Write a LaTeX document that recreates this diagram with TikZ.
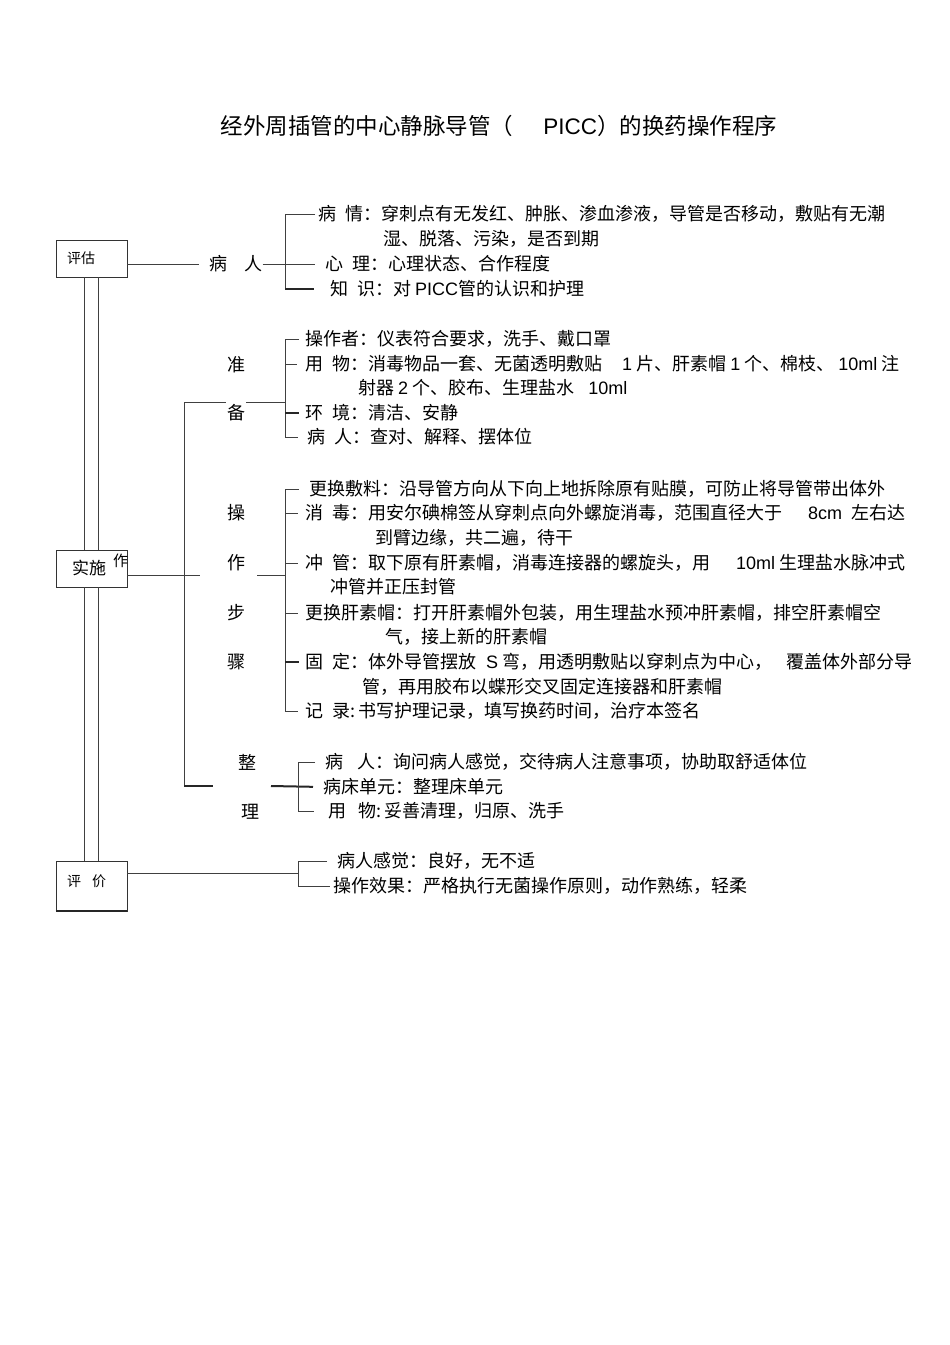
\documentclass[tikz,border=0pt]{standalone}
\usepackage{fontspec}
\setmainfont{Noto Sans CJK SC}
\newfontfamily\latn{Liberation Sans}
\tikzset{
  picc box/.style={draw=black!80,line width=0.9pt,minimum width=71pt,minimum height=37pt,inner sep=0pt},
  picc link/.style={black!75,line width=1pt},
  picc bold/.style={black!85,line width=2pt},
  picc item/.style={anchor=west,inner sep=0pt,font=\fontsize{18}{22}\selectfont},
  picc key/.style={inner sep=0pt,font=\fontsize{18}{22}\selectfont},
  picc tag/.style={anchor=west,inner sep=0pt,font=\fontsize{14}{16}\selectfont}
}
\newcommand{\kgap}{\hspace{9pt}}
\newcommand{\nm}[1]{{\latn #1}}

\begin{document}
\begin{tikzpicture}[x=1pt,y=-1pt]
  \useasboundingbox (0,0) rectangle (950,1345);
  \node[inner sep=0pt,font=\fontsize{22.5}{26}\selectfont] (title) at (499,126)
    {经外周插管的中心静脉导管（\hspace{30pt}\nm{PICC}）的换药操作程序};

  \node[picc box] (pgbox) at (91.5,258.5) {};
  \node[picc tag] (pglabel) at (67,258) {评估};
  \node[picc box] (ssbox) at (91.5,568.5) {};
  \node[picc tag,font=\fontsize{17}{20}\selectfont] (sslabel) at (72,568) {实施};
  \node[picc tag,font=\fontsize{15}{18}\selectfont] (ssextra) at (113,561) {作};
  \node[picc box,minimum height=50pt] (pjbox) at (91.5,886) {};
  \node[picc tag] (pjlabel) at (67,881) {评\hspace{11pt}价};

  \node[picc key] (brlabel) at (236,264) {病\hspace{17pt}人};
  \node[picc key] (zhun) at (236,365) {准};
  \node[picc key] (bei) at (236,413) {备};
  \node[picc key] (cao) at (236,513) {操};
  \node[picc key] (zuo) at (236,563) {作};
  \node[picc key] (bu) at (236,613) {步};
  \node[picc key] (zhou) at (236,662) {骤};
  \node[picc key] (zheng) at (247,762) {整};
  \node[picc key] (li) at (250,812) {理};

  \node[picc item] (r1) at (318,214) {病\kgap 情：穿刺点有无发红、肿胀、渗血渗液，导管是否移动，敷贴有无潮};
  \node[picc item] (r1b) at (383,239) {湿、脱落、污染，是否到期};
  \node[picc item] (r2) at (325,264) {心\kgap 理：心理状态、合作程度};
  \node[picc item] (r3) at (330,289) {知\kgap 识：对 \nm{PICC}管的认识和护理};
  \node[picc item] (r4) at (305,339) {操作者：仪表符合要求，洗手、戴口罩};
  \node[picc item] (r5) at (305,364) {用\kgap 物：消毒物品一套、无菌透明敷贴\hspace{20pt}\nm{1} 片、肝素帽 \nm{1} 个、棉枝、 \nm{10ml} 注};
  \node[picc item] (r5b) at (358,388) {射器 \nm{2} 个、胶布、生理盐水\hspace{14pt}\nm{10ml}};
  \node[picc item] (r6) at (305,413) {环\kgap 境：清洁、安静};
  \node[picc item] (r7) at (307,437) {病\kgap 人：查对、解释、摆体位};
  \node[picc item] (r8) at (309,489) {更换敷料：沿导管方向从下向上地拆除原有贴膜，可防止将导管带出体外};
  \node[picc item] (r9) at (305,513) {消\kgap 毒：用安尔碘棉签从穿刺点向外螺旋消毒，范围直径大于\hspace{26pt}\nm{8cm}\hspace{9pt}左右达};
  \node[picc item] (r9b) at (375,538) {到臂边缘，共二遍，待干};
  \node[picc item] (r10) at (305,563) {冲\kgap 管：取下原有肝素帽，消毒连接器的螺旋头，用\hspace{26pt}\nm{10ml} 生理盐水脉冲式};
  \node[picc item] (r10b) at (330,587) {冲管并正压封管};
  \node[picc item] (r11) at (305,613) {更换肝素帽：打开肝素帽外包装，用生理盐水预冲肝素帽，排空肝素帽空};
  \node[picc item] (r11b) at (385,637) {气，接上新的肝素帽};
  \node[picc item] (r12) at (305,662) {固\kgap 定：体外导管摆放\hspace{10pt}\nm{S} 弯，用透明敷贴以穿刺点为中心，\hspace{14pt}覆盖体外部分导};
  \node[picc item] (r12b) at (362,687) {管，再用胶布以蝶形交叉固定连接器和肝素帽};
  \node[picc item] (r13) at (305,711) {记\kgap 录:\,书写护理记录，填写换药时间，治疗本签名};
  \node[picc item] (r14) at (325,762) {病\hspace{14pt}人：询问病人感觉，交待病人注意事项，协助取舒适体位};
  \node[picc item] (r15) at (323,787) {病床单元：整理床单元};
  \node[picc item] (r16) at (328,811) {用\hspace{12pt}物:\,妥善清理，归原、洗手};
  \node[picc item] (r17) at (337,861) {病人感觉：良好，无不适};
  \node[picc item] (r18) at (333,886) {操作效果：严格执行无菌操作原则，动作熟练，轻柔};

  \coordinate (b1t) at (285,214);
  \coordinate (b1b) at (285,289);
  \coordinate (b2t) at (285,339);
  \coordinate (b2b) at (285,437);
  \coordinate (bbt) at (184,402);
  \coordinate (bbb) at (184,786);
  \coordinate (b3t) at (285,489);
  \coordinate (b3b) at (285,711);
  \coordinate (b4t) at (298,762);
  \coordinate (b4b) at (298,811);
  \coordinate (b5t) at (298,861);
  \coordinate (b5b) at (298,886);
  \coordinate (b5m) at (298,873);
  \coordinate (czl) at (200,575);
  \coordinate (czr) at (257,575);
  \coordinate (zll) at (213,786);
  \coordinate (zlr) at (271,786);

  \draw[picc link] ([xshift=-7pt]pgbox.south) -- ([xshift=-7pt]ssbox.north)
    ([xshift=6.5pt]pgbox.south) -- ([xshift=6.5pt]ssbox.north)
    ([xshift=-7pt]ssbox.south) -- ([xshift=-7pt]pjbox.north)
    ([xshift=6.5pt]ssbox.south) -- ([xshift=6.5pt]pjbox.north);
  \draw[picc bold] (pjbox.south west) -- (pjbox.south east);

  \draw[picc link,shorten >=10pt] ([yshift=-5.5pt]pgbox.east) -- (brlabel.west);
  \draw[picc link,shorten >=10pt] (brlabel.east) -- (r2.west);
  \draw[picc link] ([xshift=-3pt]r1.west) -- (b1t) -- (b1b);
  \draw[picc bold,shorten >=16pt] (b1b) -- (r3.west);

  \draw[picc link] ([xshift=-6pt]r4.west) -- (b2t) -- (b2b) -- ([xshift=-9pt]r7.west);
  \draw[picc link,shorten >=8pt] (b2t |- r5.west) -- (r5.west);
  \draw[picc bold,shorten >=6pt] (b2t |- r6.west) -- (r6.west);
  \draw[picc link] (bbt) -- ([xshift=-1pt]bei.west |- bbt)
    ([xshift=1pt]bei.east |- bbt) -- (b2t |- bbt);

  \draw[picc link] (bbt) -- (bbb);
  \draw[picc bold] (bbb) -- (zll);
  \draw[picc link] ([yshift=-6.5pt]ssbox.east) -- (czl);
  \draw[picc link] (czr) -- (b3t |- czr);
  \draw[picc link] ([xshift=-10pt]r8.west) -- (b3t) -- (b3b) -- ([xshift=-7pt]r13.west);
  \draw[picc link,shorten >=7pt] (b3t |- r9.west) -- (r9.west);
  \draw[picc link,shorten >=7pt] (b3t |- r10.west) -- (r10.west);
  \draw[picc link,shorten >=7pt] (b3t |- r11.west) -- (r11.west);
  \draw[picc bold,shorten >=6pt] (b3t |- r12.west) -- (r12.west);

  \draw[picc bold,shorten >=10pt] (zlr) -- (r15.west);
  \draw[picc link] ([xshift=-10pt]r14.west) -- (b4t) -- (b4b) -- ([xshift=-14pt]r16.west);

  \draw[picc link] ([yshift=13pt]pjbox.east) -- (b5m);
  \draw[picc link] ([xshift=-10pt]r17.west) -- (b5t) -- (b5b) -- ([xshift=-3pt]r18.west);
\end{tikzpicture}
\end{document}
